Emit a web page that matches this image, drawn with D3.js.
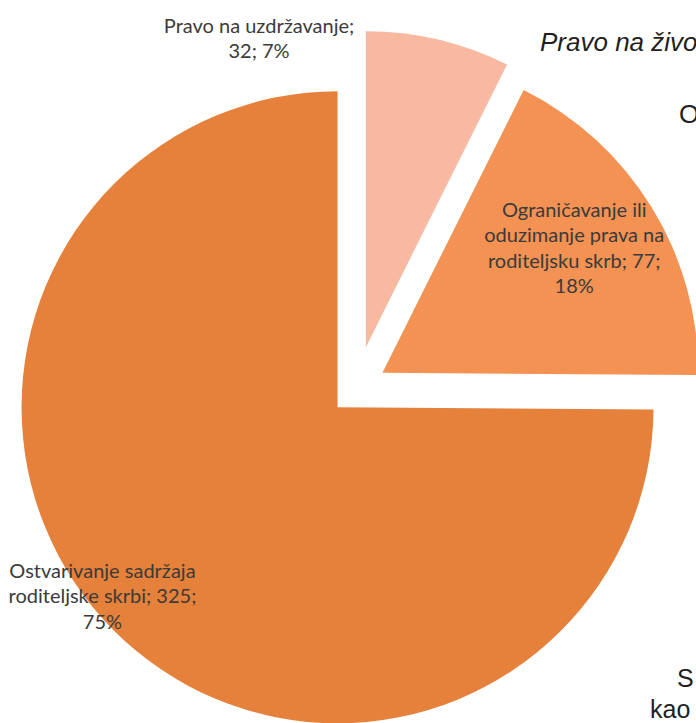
<!DOCTYPE html>
<html>
<head>
<meta charset="utf-8">
<script src="https://cdn.jsdelivr.net/npm/d3@7"></script>
<style>
  body { margin: 0; background: #fff; }
  svg { display: block; }
</style>
</head>
<body>
<svg id="chart"></svg>
<script>
// data
const categories = [
  "Pravo na uzdržavanje",
  "Ograničavanje ili oduzimanje prava na roditeljsku skrb",
  "Ostvarivanje sadržaja roditeljske skrbi"
]
const values = [32, 77, 325]
// label text as it wraps in the original
const label_lines = [
  ["Pravo na uzdržavanje;", "32; 7%"],
  ["Ograničavanje ili", "oduzimanje prava na", "roditeljsku skrb; 77;", "18%"],
  ["Ostvarivanje sadržaja", "roditeljske skrbi; 325;", "75%"]
]
// bits of the surrounding document text that show in the crop
const page_texts = [
  {text: "Pravo na živo", x: 540, y: 51, size: 26, italic: true},
  {text: "O", x: 679, y: 123, size: 26},
  {text: "S", x: 677, y: 687, size: 25},
  {text: "kao", x: 650, y: 718, size: 25}
]

const colors = ["#f8b9a0", "#f39252", "#e5813a"]

const width = 696
const height = 723
const radius = 316
const center = [356, 389]
const explode = [43, 31, 26]          // px, along each slice's mid angle
const label_pos = [                    // polar, from the slice's own tip
  {angle: -19.5, dist: 320},
  {angle: null, dist: 225},
  {angle: 230.2, dist: 306}
]
const line_height = 25.5

const svg = d3.select("#chart")
  .attr("width", width)
  .attr("height", height)

const pie = d3.pie().sort(null).value(d => d)
const arc = d3.arc().innerRadius(0).outerRadius(radius)

const slices = pie(values)

const offset = (a, r) => [Math.sin(a) * r, -Math.cos(a) * r]

const groups = svg.selectAll("g.slice")
  .data(slices)
  .enter()
  .append("g")
  .attr("class", "slice")
  .attr("transform", (d, i) => {
    const mid = (d.startAngle + d.endAngle) / 2
    const [dx, dy] = offset(mid, explode[i])
    return `translate(${center[0] + dx},${center[1] + dy})`
  })

groups.append("path")
  .attr("d", arc)
  .attr("fill", (d, i) => colors[i])

// labels
groups.each(function(d, i){
  const pos = label_pos[i]
  const a = pos.angle === null ? (d.startAngle + d.endAngle) / 2 : pos.angle * Math.PI / 180
  const [lx, ly] = offset(a, pos.dist)
  const lines = label_lines[i]
  const text = d3.select(this).append("text")
    .attr("text-anchor", "middle")
    .attr("font-family", "Lato, 'Open Sans', sans-serif")
    .attr("font-size", 20)
    .attr("fill", "#3b3b3b")
  lines.forEach((line, j) => {
    text.append("tspan")
      .attr("x", lx)
      .attr("y", ly + (j - (lines.length - 1) / 2) * line_height)
      .text(line)
  })
})

// surrounding page text
svg.selectAll("text.page")
  .data(page_texts)
  .enter()
  .append("text")
  .attr("class", "page")
  .attr("x", d => d.x)
  .attr("y", d => d.y)
  .attr("font-family", "'Liberation Sans', Arial, sans-serif")
  .attr("font-size", d => d.size)
  .attr("font-style", d => d.italic ? "italic" : "normal")
  .attr("fill", "#231f20")
  .text(d => d.text)
</script>
</body>
</html>
